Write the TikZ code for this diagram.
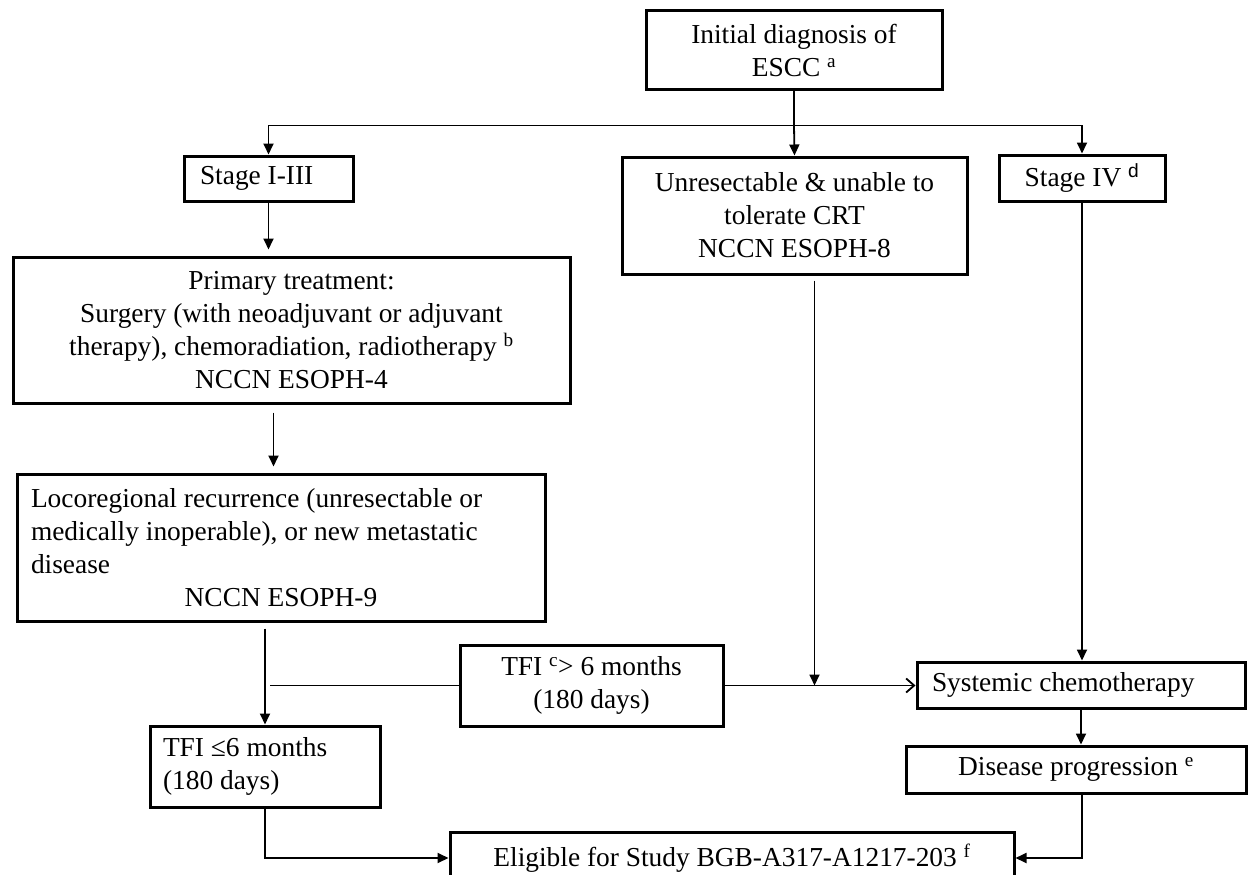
\documentclass[tikz,border=0pt]{standalone}
\usepackage{fontspec}
\setmainfont{Liberation Serif}
\setsansfont{Liberation Sans}
\usetikzlibrary{arrows.meta}

\begin{document}
\begin{tikzpicture}[
x=1pt, y=-1pt,
box/.style={draw, line width=3pt, inner sep=0pt, font=\fontsize{27.4}{33}\selectfont},
conn/.style={line width=1.8pt},
arr/.style={conn, -{Triangle[length=11pt, width=10pt]}}
]
\useasboundingbox (0,0) rectangle (1248,875);
\clip (0,0) rectangle (1248,875);

% boxes
\node[box, minimum width=296pt, minimum height=79pt, align=center] (init) at (794,50.5) {Initial diagnosis of\\ESCC \textsuperscript{a}};
\node[box, minimum width=169pt, minimum height=45pt, text width=137pt, inner xsep=16pt, align=flush left] (st13) at (268.5,178.5) {Stage I-III};
\node[box, minimum width=345pt, minimum height=117pt, align=center] (unres) at (794.5,215.5) {Unresectable \& unable to\\tolerate CRT\\NCCN ESOPH-8};
\node[box, minimum width=166pt, minimum height=46pt] (st4) at (1082,178) {Stage IV \textsuperscript{\sffamily d}};
\node[box, minimum width=557pt, minimum height=146pt, align=center] (prim) at (291.5,330) {Primary treatment:\\Surgery (with neoadjuvant or adjuvant\\therapy), chemoradiation, radiotherapy \textsuperscript{b}\\NCCN ESOPH-4};
\node[box, minimum width=528pt, minimum height=147pt, text width=500pt, inner xsep=14pt, align=flush left] (loco) at (281,547.5) {Locoregional recurrence (unresectable or\\medically inoperable), or new metastatic\\disease\\\hskip 0pt plus 1filll NCCN ESOPH-9\hskip 0pt plus 1filll\null};
\node[box, minimum width=263pt, minimum height=81pt, align=center] (tfigt) at (591.5,685.5) {TFI \textsuperscript{c}> 6 months\\(180 days)};
\node[box, minimum width=230pt, minimum height=81pt, text width=204pt, inner xsep=13pt, align=flush left] (tfile) at (265,766.5) {TFI ≤6 months\\(180 days)};
\node[box, minimum width=328pt, minimum height=46pt, text width=298pt, inner xsep=15pt, align=flush left] (chemo) at (1081,685) {Systemic chemotherapy};
\node[box, minimum width=340pt, minimum height=47pt] (prog) at (1076,769.5) {Disease progression \textsuperscript{e}};
\node[box, minimum width=564pt, minimum height=52pt] (elig) at (732,858) {Eligible for Study BGB-A317-A1217-203 \textsuperscript{f}};

% connectors
\coordinate (split) at ([yshift=-34pt]init.south);
\draw[conn] (init.south) -- (split);
\draw[arr] (split) -| (st13.north);
\draw[arr] (split) -| (st4.north);
\draw[arr] (split) -- (unres.north);
\draw[arr, shorten >=6pt] (st13.south) -- (st13.south |- prim.north);
\draw[arr, shorten <=8pt, shorten >=6pt] ([xshift=-18pt]prim.south) -- ([xshift=-18pt]prim.south |- loco.north);
\draw[arr, shorten <=6pt] (tfile.north |- loco.south) -- (tfile.north);
\coordinate (branch) at ([xshift=5pt]tfile.north |- tfigt.west);
\draw[conn] (branch) -- (tfigt.west);
\draw[conn, -{Straight Barb[length=8pt, width=14pt]}] (tfigt.east) -- (tfigt.east -| chemo.west);
\draw[arr, shorten <=5pt] ([xshift=20pt]unres.south) -- ([xshift=20pt]unres.south |- tfigt.east);
\draw[arr] (st4.south) -- (st4.south |- chemo.north);
\draw[arr] (chemo.south) -- (chemo.south |- prog.north);
\draw[arr] (st4.south |- prog.south) |- (elig.east);
\draw[arr] (tfile.south) |- (elig.west);

\end{tikzpicture}
\end{document}
